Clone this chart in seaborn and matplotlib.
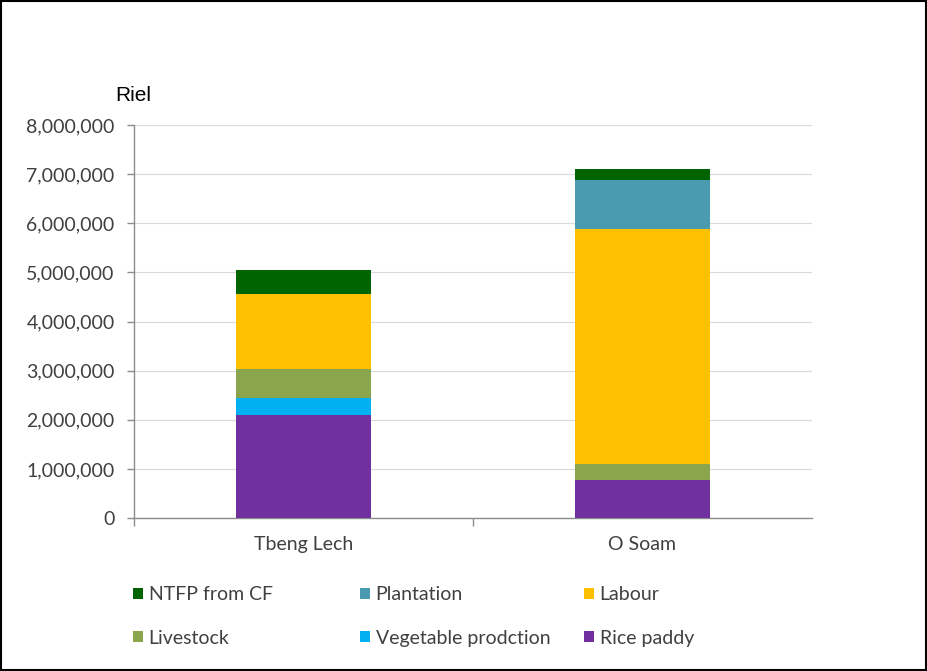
import matplotlib
matplotlib.use("Agg")
import matplotlib.pyplot as plt
from matplotlib.patches import Patch, Rectangle
from matplotlib.ticker import FuncFormatter
import seaborn as sns
import pandas as pd
import numpy as np

# Household income by source (Riel)
villages = ["Tbeng Lech", "O Soam"]
rice_paddy = [2100000, 770000]
vegetable = [340000, 0]
livestock = [590000, 320000]
labour = [1520000, 4790000]
plantation = [0, 1010000]
ntfp = [500000, 210000]

# stacking order from bottom to top
layers = [
    ("Rice paddy", rice_paddy, "#7030A0"),
    ("Vegetable prodction", vegetable, "#00B0F0"),
    ("Livestock", livestock, "#8BA54D"),
    ("Labour", labour, "#FFC000"),
    ("Plantation", plantation, "#4A9AB0"),
    ("NTFP from CF", ntfp, "#006400"),
]

sns.set_theme(style="white")
plt.rcParams["font.family"] = ["Lato", "DejaVu Sans"]

W, H = 928, 671
fig = plt.figure(figsize=(W / 100, H / 100), dpi=100)
ax = fig.add_axes([134 / W, 1 - 518 / H, 678 / W, 393 / H])

# cumulative tops, drawn top layer first so lower layers overlay them
cum = np.cumsum([np.array(v, dtype=float) for _, v, _ in layers], axis=0)
for i in range(len(layers) - 1, -1, -1):
    df = pd.DataFrame({"village": villages, "value": cum[i]})
    sns.barplot(data=df, x="village", y="value", color=layers[i][2],
                width=0.4, saturation=1, ax=ax, zorder=3, linewidth=0)

ax.set_xlim(-0.5, 1.5)
ax.set_ylim(0, 8000000)
ax.set_yticks(np.arange(0, 8000001, 1000000))
ax.yaxis.set_major_formatter(FuncFormatter(lambda v, p: f"{int(v):,}"))
ax.grid(axis="y", color="#D9D9D9", linewidth=0.8, zorder=0)
ax.set_axisbelow(True)
ax.set_xlabel("")
ax.set_ylabel("")

for s in ["top", "right"]:
    ax.spines[s].set_visible(False)
for s in ["left", "bottom"]:
    ax.spines[s].set_color("#8C8C8C")
    ax.spines[s].set_linewidth(1.0)

ax.tick_params(axis="y", which="major", length=5, width=1, color="#8C8C8C",
               labelsize=14, labelcolor="#404040", pad=9, left=True)
ax.tick_params(axis="x", which="major", length=0, labelsize=14,
               labelcolor="#404040", pad=13)
ax.set_xticks([-0.5, 0.5], minor=True)
ax.tick_params(axis="x", which="minor", length=6, width=1, color="#8C8C8C",
               bottom=True)

fig.text(0.124, 0.858, "Riel", fontsize=15, family=["Liberation Sans"],
         color="black", ha="left", va="center")

# legend: three columns of two entries each
colors = {name: c for name, _, c in layers}
columns = [
    (133, ["NTFP from CF", "Livestock"]),
    (360, ["Plantation", "Vegetable prodction"]),
    (584, ["Labour", "Rice paddy"]),
]
for x0, names in columns:
    handles = [Patch(facecolor=colors[n], edgecolor="none", label=n)
               for n in names]
    fig.legend(handles=handles, ncol=1, loc="center left",
               bbox_to_anchor=(x0 / W, 1 - 616.5 / H), frameon=False,
               fontsize=14, handlelength=0.5, handleheight=0.5,
               handletextpad=0.3, labelspacing=1.35, borderpad=0,
               borderaxespad=0, labelcolor="#404040")

# outer frame
fig.patches.append(Rectangle((0.001, 0.001), 0.997, 0.997,
                             transform=fig.transFigure, fill=False,
                             edgecolor="black", linewidth=1.5))

fig.savefig("out.png", dpi=100)
